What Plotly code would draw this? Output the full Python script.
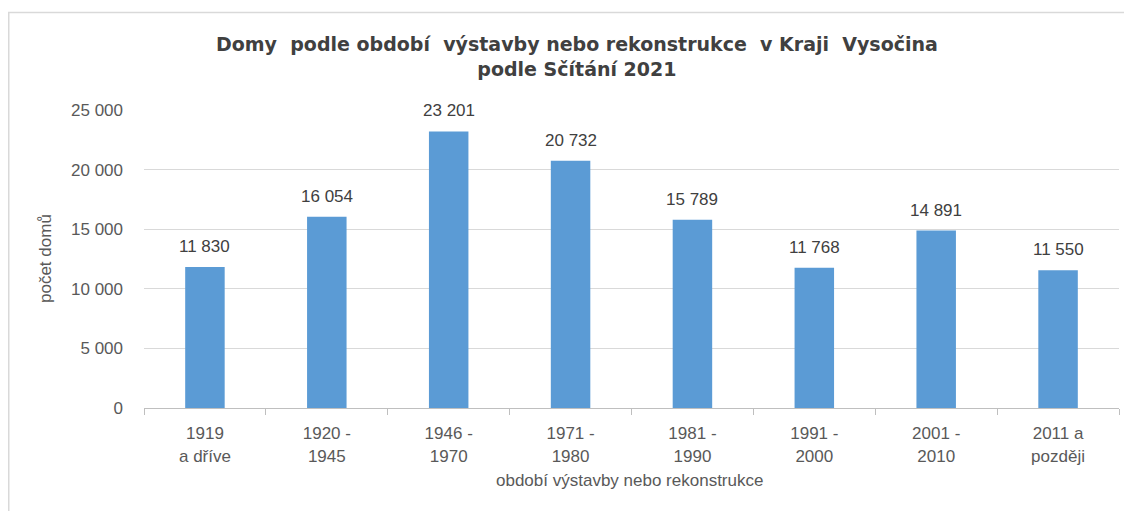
import plotly.graph_objects as go

categories = ["1919<br>a dříve", "1920 -<br>1945", "1946 -<br>1970", "1971 -<br>1980",
              "1981 -<br>1990", "1991 -<br>2000", "2001 -<br>2010", "2011 a<br>později"]
values = [11830, 16054, 23201, 20732, 15789, 11768, 14891, 11550]
y_ticks = [0, 5000, 10000, 15000, 20000, 25000]
y_tick_labels = ["0", "5 000", "10 000", "15 000", "20 000", "25 000"]

title_text = ("<b>Domy  podle období  výstavby nebo rekonstrukce  v Kraji  Vysočina</b>"
              "<br><b>podle Sčítání 2021</b>")
x_title = "období výstavby nebo rekonstrukce"
y_title = "počet domů"

# page has an 8px body margin: figure coords = page coords - 8
W, H = 1124, 503
L, T = 136, 102
PR, PB = 1111, 400
R, B = W - PR, H - PB
pw, ph = PR - L, PB - T

FONT = "Liberation Sans, Arial, sans-serif"
GRAY = "#595959"

fig = go.Figure(go.Bar(
    x=categories, y=values,
    marker=dict(color="#5b9bd5", line=dict(width=0)),
    hoverinfo="x+y",
))

# data labels
for c, v in zip(categories, values):
    fig.add_annotation(x=c, y=v, xref="x", yref="y",
                       text=f"{v:,}".replace(",", " "), showarrow=False,
                       yanchor="bottom", yshift=9,
                       font=dict(family=FONT, size=17, color="#404040"))

fig.update_layout(
    width=W, height=H,
    margin=dict(l=L, r=R, t=T, b=B, autoexpand=False),
    paper_bgcolor="white", plot_bgcolor="white",
    bargap=0.676,
    showlegend=False,
    font=dict(family=FONT, color=GRAY),
)

# title
fig.add_annotation(xref="paper", yref="paper",
                   x=(568.5 - L) / pw, y=(PB - 48.5) / ph,
                   xanchor="center", yanchor="middle", showarrow=False,
                   text=title_text, align="center",
                   font=dict(family="DejaVu Sans, Verdana, sans-serif", size=19, color="#404040"))

# axis titles
fig.add_annotation(xref="paper", yref="paper",
                   x=(37 - L) / pw, y=0.5,
                   xanchor="center", yanchor="middle", showarrow=False, textangle=-90,
                   text=y_title, font=dict(family=FONT, size=17, color=GRAY))
fig.add_annotation(xref="paper", yref="paper",
                   x=(621 - L) / pw, y=(PB - 472) / ph,
                   xanchor="center", yanchor="middle", showarrow=False,
                   text=x_title, font=dict(family=FONT, size=17, color=GRAY))

fig.update_yaxes(
    range=[0, 25000], tickvals=y_ticks, ticktext=y_tick_labels,
    showgrid=True, gridcolor="#d9d9d9", gridwidth=1,
    zeroline=False, showline=False, ticks="",
    tickfont=dict(size=17, color=GRAY), ticklabelstandoff=20,
    automargin=False,
)
fig.update_xaxes(
    showline=True, linecolor="#bfbfbf", linewidth=1,
    ticks="outside", tickson="boundaries", ticklen=6, tickcolor="#bfbfbf",
    tickfont=dict(size=17, color=GRAY), ticklabelstandoff=10,
    automargin=False,
)

# outer chart border (only top and left edges are inside the picture)
fig.add_shape(type="rect", xref="paper", yref="paper",
              x0=(0.75 - L) / pw, x1=(W + 20 - L) / pw,
              y0=-(H + 20 - PB) / ph, y1=(PB - 4.5) / ph,
              line=dict(color="#d9d9d9", width=1.5), fillcolor="rgba(0,0,0,0)", layer="below")

fig.write_html("out.html")
